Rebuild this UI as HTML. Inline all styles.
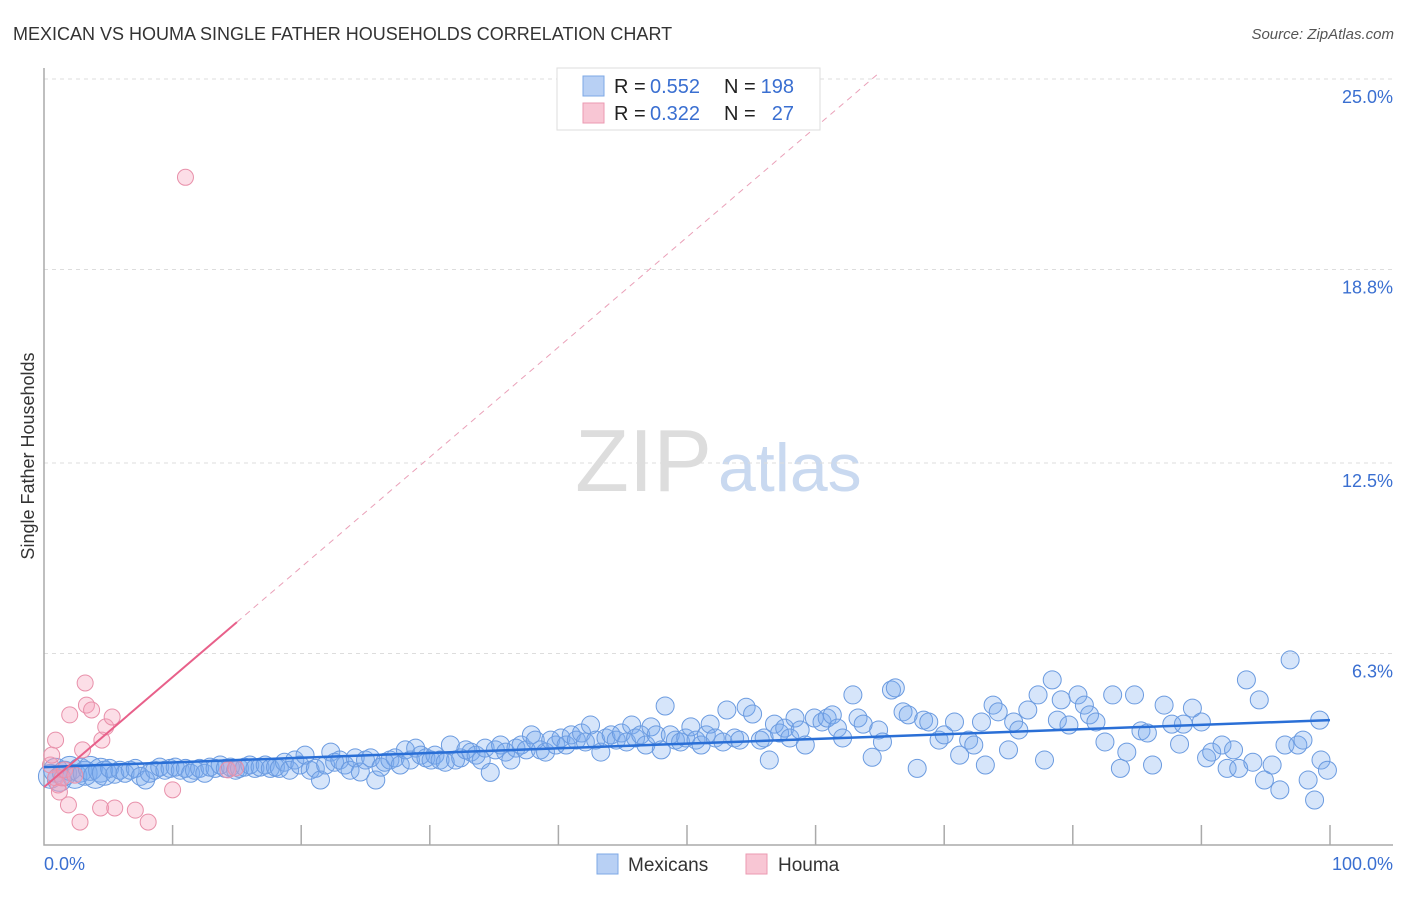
<!DOCTYPE html>
<html><head><meta charset="utf-8">
<style>
body{margin:0;background:#fff;font-family:"Liberation Sans",sans-serif;}
svg text{font-family:"Liberation Sans",sans-serif;}
</style></head>
<body>
<svg id="chart" width="1406" height="892">
<text x="13" y="40" font-size="18" fill="#333">MEXICAN VS HOUMA SINGLE FATHER HOUSEHOLDS CORRELATION CHART</text>
<text x="1394" y="39" font-size="15" fill="#555" font-style="italic" text-anchor="end">Source: ZipAtlas.com</text>
<text x="712" y="491" font-size="88" fill="#ddd" font-family="Liberation Serif" text-anchor="end">ZIP</text>
<text x="718" y="491" font-size="68" fill="#c9d9f0">atlas</text>
<text transform="translate(34,456) rotate(-90)" font-size="18" fill="#333" text-anchor="middle">Single Father Households</text>
<g id="grid"></g><g id="axes"></g><g id="pts"></g><g id="lines"></g>
<g>
<rect x="557" y="68" width="263" height="62" fill="#fff" stroke="#ddd"/>
<rect x="583" y="76" width="21" height="20" fill="#b8d0f4" stroke="#7ea8e6"/>
<rect x="583" y="103" width="21" height="20" fill="#f8c6d4" stroke="#eb9ab2"/>
<text x="614" y="93" font-size="20" fill="#222">R =</text>
<text x="650" y="93" font-size="20" fill="#3a6fd1">0.552</text>
<text x="724" y="93" font-size="20" fill="#222">N =</text>
<text x="794" y="93" font-size="20" fill="#3a6fd1" text-anchor="end">198</text>
<text x="614" y="120" font-size="20" fill="#222">R =</text>
<text x="650" y="120" font-size="20" fill="#3a6fd1">0.322</text>
<text x="724" y="120" font-size="20" fill="#222">N =</text>
<text x="794" y="120" font-size="20" fill="#3a6fd1" text-anchor="end">27</text>
</g>
<g>
<rect x="597" y="854" width="21" height="20" fill="#b8d0f4" stroke="#7ea8e6"/>
<text x="628" y="871" font-size="19" fill="#333">Mexicans</text>
<rect x="746" y="854" width="21" height="20" fill="#f8c6d4" stroke="#eb9ab2"/>
<text x="778" y="871" font-size="19" fill="#333">Houma</text>
</g>
</svg>
<script>
const yTicks=[6.3,12.5,18.8,25.0];
const xTickLabels=["0.0%","100.0%"];
const blueTrend=[2.6,4.13];
const pinkTrend=[1.95,7.32];
const blue=[[0.5,2.3],[0.9,2.5],[1.2,2.2],[1.6,2.4],[2.0,2.56],[2.4,2.3],[2.8,2.5],[3.2,2.4],[3.6,2.56],[4.0,2.3],[4.4,2.5],[4.7,2.4],[5.1,2.56],[5.5,2.37],[5.9,2.5],[6.3,2.4],[6.7,2.5],[7.1,2.56],[7.5,2.3],[7.9,2.18],[8.2,2.4],[8.6,2.5],[9.0,2.6],[9.4,2.5],[9.8,2.56],[10.2,2.6],[10.6,2.5],[11.0,2.56],[11.4,2.4],[11.7,2.5],[12.1,2.56],[12.5,2.4],[12.9,2.6],[13.3,2.56],[13.7,2.67],[14.1,2.56],[14.5,2.6],[14.9,2.5],[15.2,2.56],[15.6,2.6],[16.0,2.67],[16.4,2.56],[16.8,2.6],[17.2,2.67],[17.6,2.56],[18.0,2.6],[18.3,2.56],[18.7,2.76],[19.1,2.5],[19.5,2.83],[19.9,2.67],[20.3,2.99],[20.7,2.5],[21.1,2.56],[21.5,2.18],[21.9,2.67],[22.3,3.09],[22.6,2.76],[23.0,2.83],[23.4,2.67],[23.8,2.5],[24.2,2.9],[24.6,2.44],[25.0,2.83],[25.4,2.9],[25.8,2.18],[26.2,2.6],[26.5,2.76],[26.9,2.83],[27.3,2.9],[27.7,2.67],[28.1,3.16],[28.5,2.83],[28.9,3.22],[29.3,2.99],[29.7,2.9],[30.1,2.83],[30.4,2.99],[30.8,2.83],[31.2,2.76],[31.6,3.32],[32.0,2.83],[32.4,2.9],[32.8,3.16],[33.2,3.09],[33.6,2.99],[34.0,2.83],[34.3,3.22],[34.7,2.43],[35.1,3.16],[35.5,3.32],[35.9,3.09],[36.3,2.83],[36.7,3.22],[37.1,3.32],[37.5,3.16],[37.9,3.65],[38.2,3.48],[38.6,3.16],[39.0,3.09],[39.4,3.48],[39.8,3.32],[40.2,3.55],[40.6,3.32],[41.0,3.65],[41.4,3.48],[41.8,3.71],[42.1,3.42],[42.5,3.97],[42.9,3.48],[43.3,3.09],[43.7,3.55],[44.1,3.65],[44.5,3.48],[44.9,3.71],[45.3,3.42],[45.7,3.97],[46.0,3.55],[46.4,3.65],[46.8,3.32],[47.2,3.91],[47.6,3.65],[48.0,3.16],[48.3,4.59],[48.7,3.65],[49.1,3.48],[49.5,3.42],[49.9,3.55],[50.3,3.91],[50.7,3.48],[51.1,3.32],[51.5,3.65],[51.8,4.0],[52.2,3.55],[52.8,3.42],[53.1,4.46],[53.7,3.55],[54.1,3.48],[54.6,4.55],[55.1,4.33],[55.7,3.48],[56.0,3.55],[56.4,2.83],[56.8,4.0],[57.2,3.71],[57.6,3.87],[58.0,3.55],[58.4,4.2],[58.8,3.81],[59.2,3.32],[59.9,4.2],[60.5,4.07],[60.9,4.2],[61.3,4.3],[61.7,3.87],[62.1,3.55],[62.9,4.95],[63.3,4.2],[63.7,4.0],[64.4,2.92],[64.9,3.81],[65.2,3.42],[65.9,5.11],[66.2,5.18],[66.8,4.4],[67.2,4.3],[67.9,2.56],[68.4,4.13],[68.8,4.07],[69.6,3.48],[70.0,3.65],[70.8,4.07],[71.2,2.99],[71.9,3.48],[72.3,3.32],[72.9,4.07],[73.2,2.67],[73.8,4.62],[74.2,4.4],[75.0,3.16],[75.4,4.07],[75.8,3.81],[76.5,4.46],[77.3,4.95],[77.8,2.83],[78.4,5.44],[78.8,4.13],[79.1,4.79],[79.7,3.97],[80.4,4.95],[80.9,4.62],[81.3,4.3],[81.8,4.07],[82.5,3.42],[83.1,4.95],[83.7,2.56],[84.2,3.09],[84.8,4.95],[85.3,3.78],[85.8,3.71],[86.2,2.67],[87.1,4.62],[87.7,4.0],[88.3,3.35],[88.6,4.0],[89.3,4.52],[90.0,4.07],[90.4,2.9],[90.8,3.09],[91.6,3.32],[92.0,2.56],[92.5,3.16],[92.9,2.56],[93.5,5.44],[94.0,2.76],[94.5,4.79],[94.9,2.18],[95.5,2.67],[96.1,1.86],[96.5,3.32],[96.9,6.09],[97.5,3.32],[97.9,3.48],[98.3,2.18],[98.8,1.53],[99.3,2.83],[99.8,2.5],[99.2,4.13]];
const pink=[[0.5,2.67],[0.6,2.99],[0.9,3.48],[0.9,2.25],[1.1,2.02],[1.2,1.79],[1.4,2.25],[1.6,2.51],[1.9,1.37],[2.0,4.3],[2.4,2.34],[2.8,0.81],[3.0,3.16],[3.2,5.34],[3.3,4.62],[3.7,4.46],[4.4,1.27],[4.5,3.48],[4.8,3.91],[5.3,4.23],[5.5,1.27],[7.1,1.2],[8.1,0.81],[10.0,1.86],[11.0,21.8],[14.3,2.51],[14.9,2.57]];
const NS="http://www.w3.org/2000/svg";
const X0=44,X1=1330,Y0=847,PXY=30.72;
const xs=v=>X0+(X1-X0)*v/100;
const ys=v=>Y0-v*PXY;
function mk(tag,attrs,parent){const e=document.createElementNS(NS,tag);for(const k in attrs)e.setAttribute(k,attrs[k]);document.getElementById(parent).appendChild(e);return e;}
yTicks.forEach(t=>{
 const g=mk('line',{x1:X0,x2:1393,y1:ys(t),y2:ys(t),stroke:'#ddd','stroke-dasharray':'4,4'},'grid');
 
 
 const l=mk('text',{x:1393,y:ys(t)+24,'text-anchor':'end','font-size':18,fill:'#3a6fd1'},'grid');
 l.textContent=t.toFixed(1)+'%';
 
 
});
const ax=mk('path',{d:`M${X0},68 V845 H1393`,stroke:'#aaa',fill:'none','stroke-width':1.5},'axes');


for(let i=1;i<=10;i++){
 const t=mk('line',{x1:xs(i*10),x2:xs(i*10),y1:825,y2:845,stroke:'#aaa','stroke-width':1.5},'axes');
 
 
}
[[0,'start',44],[100,'end',1393]].forEach((d,i)=>{
 const l=mk('text',{x:d[2],y:870,'text-anchor':d[1],'font-size':18,fill:'#3a6fd1'},'axes');
 l.textContent=xTickLabels[i];
 
 
});
blue.forEach((p,i)=>{
 const c=mk('circle',{cx:xs(p[0]),cy:ys(p[1]),r:i<12?12:9,fill:'rgba(120,168,238,0.3)',stroke:'#6b9be0','stroke-width':1},'pts');
 
 
});
pink.forEach(p=>{
 const c=mk('circle',{cx:xs(p[0]),cy:ys(p[1]),r:8,fill:'rgba(245,160,185,0.35)',stroke:'#e890aa','stroke-width':1},'pts');
 
 
});
const bl=mk('line',{x1:xs(0),y1:ys(blueTrend[0]),x2:xs(100),y2:ys(blueTrend[1]),stroke:'#2a6fd6','stroke-width':2.5},'lines');


const slope=(pinkTrend[1]-pinkTrend[0])/15;
const pl=mk('line',{x1:xs(0),y1:ys(pinkTrend[0]),x2:xs(15),y2:ys(pinkTrend[1]),stroke:'#e8608a','stroke-width':2},'lines');


const xe=(25.2-pinkTrend[0])/slope;
const pd=mk('line',{x1:xs(15),y1:ys(pinkTrend[1]),x2:xs(xe),y2:ys(pinkTrend[0]+slope*xe),stroke:'#eaa0b8','stroke-width':1,'stroke-dasharray':'6,5'},'lines');


</script>
</body></html>
